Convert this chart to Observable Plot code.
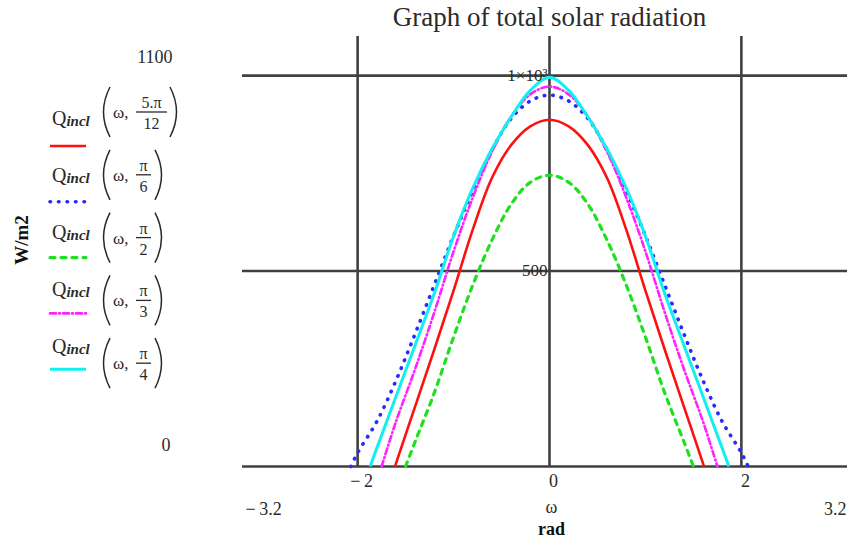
<!DOCTYPE html>
<html>
<head>
<meta charset="utf-8">
<script src="https://cdn.jsdelivr.net/npm/d3@7"></script>
<script src="https://cdn.jsdelivr.net/npm/@observablehq/plot@0.6"></script>
<style>
  html, body { margin: 0; padding: 0; background: #fff; overflow: hidden; }
  #chart { position: relative; width: 847px; height: 542px; overflow: hidden; }
  #chart svg { position: absolute; left: 0; top: 0; }
</style>
</head>
<body>
<div id="chart"></div>
<script>
// Hour angle ω (rad) sample grid shared by all curves
const omega = [-2.0, -1.8, -1.6, -1.4, -1.2, -1.0, -0.8, -0.6, -0.4, -0.2, 0,
                0.2,  0.4,  0.6,  0.8,  1.0,  1.2,  1.4,  1.6,  1.8, 2.0];

// Q_incl(ω, β) in W/m2 for each tilt β (null where the surface is in shadow)
const qTilt5pi12 = [null, null, 8, 154, 300, 450, 606, 738, 822, 870, 887, 870, 822, 738, 606, 450, 300, 154, 8, null, null];
const qTiltPi6   = [35, 115, 220, 340, 465, 590, 705, 810, 890, 935, 950, 935, 890, 810, 705, 590, 465, 340, 220, 115, 35];
const qTiltPi2   = [null, null, null, 64, 189, 331, 464, 579, 671, 727, 745, 727, 671, 579, 464, 331, 189, 64, null, null, null];
const qTiltPi3   = [null, null, 115, 250, 395, 550, 688, 805, 895, 952, 972, 952, 895, 805, 688, 550, 395, 250, 115, null, null];
const qTiltPi4   = [null, 47, 179, 311, 443, 589, 712, 812, 894, 962, 996, 962, 894, 812, 712, 589, 443, 311, 179, 47, null];

// Sunrise/sunset hour angle where each curve meets zero (± symmetric)
const sunsetOmega = [1.61, 2.07, 1.50, 1.75, 1.87];

// Legend text: β = numerator / denominator
const betaNum = ["5.π", "π", "π", "π", "π"];
const betaDen = ["12", "6", "2", "3", "4"];

// Axis ticks and limits
const xTicks = [-2, 0, 2];
const yGrid = [0, 500, 1000];
const yTickLabels = [500, 1000];
const xLimits = [-3.2, 3.2];
const yLimits = [0, 1100];

// Line styles per series
const colors = ["#ff1010", "#2a2aff", "#1ee01e", "#ff22ff", "#11f0f0"];
const dashes = [null, "0.5,8", "5,6", "6,3,1,3", null];
const widths = [2.6, 3.6, 3.2, 2.6, 3.0];

const series = [qTilt5pi12, qTiltPi6, qTiltPi2, qTiltPi3, qTiltPi4];
const rows = series.map((vals, i) => {
  const pts = [{w: -sunsetOmega[i], q: 0}];
  omega.forEach((w, j) => { if (vals[j] != null) pts.push({w, q: vals[j]}); });
  pts.push({w: sunsetOmega[i], q: 0});
  return pts;
});

const serif = "'Liberation Serif', 'Times New Roman', serif";
const ink = "#2a2a2a";
const gridColor = "#404040";
const fmt = v => v < 0 ? "\u2212\u2009" + Math.abs(v) : String(v);

const chart = Plot.plot({
  width: 847,
  height: 542,
  marginLeft: 242,
  marginRight: 0,
  marginTop: 36,
  marginBottom: 76,
  style: {fontFamily: serif, background: "transparent", overflow: "hidden"},
  x: {domain: xLimits, range: [242, 856], axis: null},
  y: {domain: yLimits, range: [466, 36], axis: null},
  marks: [
    Plot.ruleX(xTicks, {x: d => d, y1: yLimits[0], y2: yLimits[1], stroke: gridColor, strokeWidth: 2.6}),
    Plot.ruleY(yGrid, {y: d => d, x1: xLimits[0], x2: xLimits[1], stroke: gridColor, strokeWidth: 2.6}),
    ...rows.map((r, i) => Plot.line(r, {
      x: "w", y: "q", curve: "catmull-rom",
      stroke: colors[i], strokeWidth: widths[i],
      strokeDasharray: dashes[i] ?? undefined,
      strokeLinecap: dashes[i] ? "round" : "butt"
    })),
    // x tick labels under the baseline
    Plot.text(xTicks, {x: d => d, y: () => 0, text: fmt, dx: 4, dy: 15, fontSize: 18, fill: ink}),
    // y tick labels beside the axis at ω = 0
    Plot.text(yTickLabels, {x: () => 0, y: d => d, text: d => d === 1000 ? "1×10³" : String(d),
      textAnchor: "end", dx: -2, fontSize: 17, fill: ink}),
    // axis limits
    Plot.text([xLimits[0]], {x: d => d, y: () => 0, text: fmt, textAnchor: "start", dx: 3, dy: 43, fontSize: 18, fill: ink}),
    Plot.text([xLimits[1]], {x: d => d, y: () => 0, text: fmt, textAnchor: "end", dx: -10, dy: 43, fontSize: 18, fill: ink}),
    Plot.text([yLimits[1]], {frameAnchor: "left", y: d => d, text: String, textAnchor: "end", dx: -70, dy: 21, fontSize: 18, fill: ink}),
    Plot.text([yLimits[0]], {frameAnchor: "left", y: d => d, text: String, textAnchor: "end", dx: -72, dy: -21, fontSize: 18, fill: ink}),
    // x variable and unit
    Plot.text(["ω"], {x: () => 0, y: () => 0, dx: 2, dy: 41, fontSize: 18, fill: ink}),
    Plot.text(["rad"], {x: () => 0, y: () => 0, dx: 2, dy: 63, fontSize: 18, fontWeight: "bold", fill: "#111"}),
    // title
    Plot.text(["Graph of total solar radiation"], {x: () => 0, y: () => yLimits[1], dy: -19, fontSize: 27, fill: ink})
  ]
});

const holder = document.getElementById("chart");
holder.appendChild(chart);

// Legend and y unit, drawn to the left of the plot area
const svg = d3.select(holder).append("svg")
  .attr("width", 847).attr("height", 542)
  .style("font-family", serif);

svg.append("text")
  .attr("transform", "translate(28,240) rotate(-90)")
  .attr("text-anchor", "middle")
  .attr("font-size", 19).attr("font-weight", "bold").attr("fill", "#111")
  .text("W/m2");

betaNum.forEach((num, i) => {
  const pc = 112 + i * 62.8;       // centre of the bracketed argument
  const qc = 119 + i * 57;         // centre of the Q label
  const sy = 146 + i * 55.8;       // swatch line
  const wide = num.length > 1;
  const g = svg.append("g").attr("fill", ink);

  const t = g.append("text").attr("x", 52).attr("y", qc + 6).attr("font-size", 20);
  t.append("tspan").text("Q");
  t.append("tspan").attr("font-size", 15).attr("font-style", "italic").attr("font-weight", "bold")
    .attr("dy", 1).text("incl");

  const lp = 110, rp = wide ? 170 : 155;
  g.append("path").attr("d", `M${lp},${pc - 25} Q${lp - 13},${pc} ${lp},${pc + 25}`)
    .attr("fill", "none").attr("stroke", ink).attr("stroke-width", 1.5);
  g.append("path").attr("d", `M${rp},${pc - 25} Q${rp + 13},${pc} ${rp},${pc + 25}`)
    .attr("fill", "none").attr("stroke", ink).attr("stroke-width", 1.5);

  g.append("text").attr("x", 113).attr("y", pc + 6).attr("font-size", 17).text("ω,");
  const fx0 = 136, fx1 = wide ? 167 : 151, fcx = (fx0 + fx1) / 2;
  g.append("text").attr("x", fcx).attr("y", pc - 4).attr("text-anchor", "middle").attr("font-size", 16).text(num);
  g.append("line").attr("x1", fx0).attr("x2", fx1).attr("y1", pc).attr("y2", pc)
    .attr("stroke", ink).attr("stroke-width", 1.3);
  g.append("text").attr("x", fcx).attr("y", pc + 17).attr("text-anchor", "middle").attr("font-size", 16).text(betaDen[i]);

  svg.append("line").attr("x1", 50).attr("x2", 86).attr("y1", sy).attr("y2", sy)
    .attr("stroke", colors[i]).attr("stroke-width", widths[i])
    .attr("stroke-dasharray", dashes[i])
    .attr("stroke-linecap", dashes[i] ? "round" : "butt");
});
</script>
</body>
</html>
